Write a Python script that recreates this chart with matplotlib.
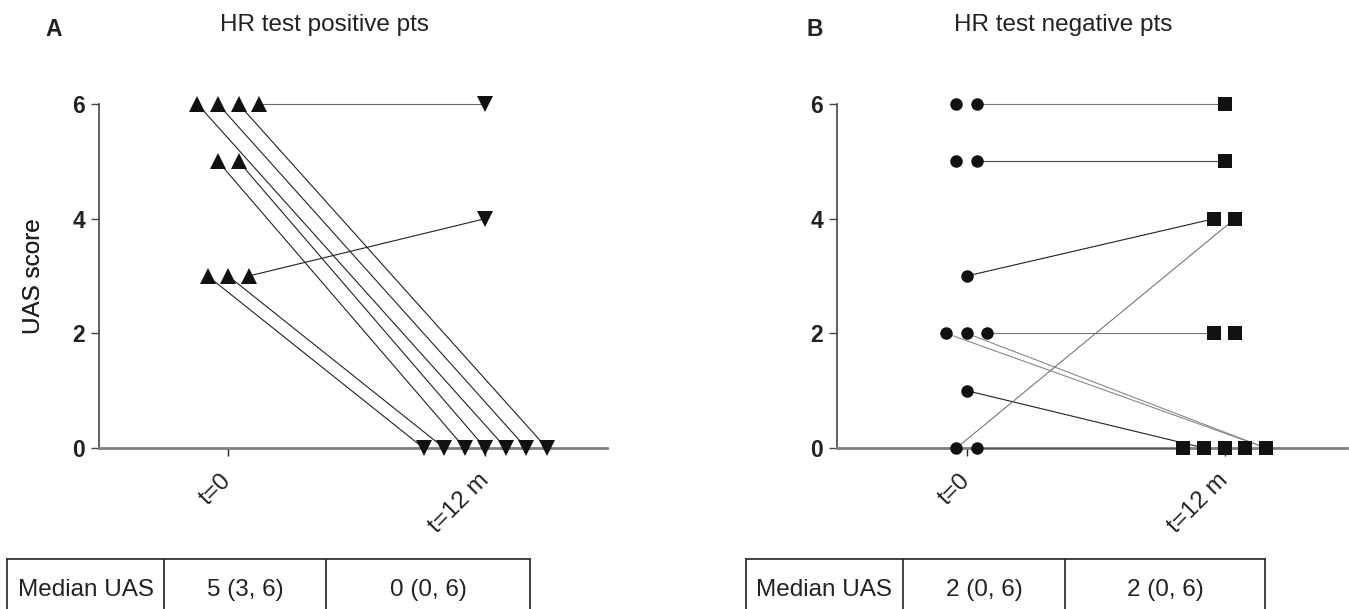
import numpy as np
import matplotlib

matplotlib.use("Agg")
import matplotlib.pyplot as plt
from matplotlib.lines import Line2D

plt.rcParams["font.family"] = ["Liberation Sans", "DejaVu Sans"]

# --- data ---------------------------------------------------------------
cats = ["t=0", "t=12 m"]
yticks = [0, 2, 4, 6]

# panel A: HR test positive (9 patients)
a_t0 = [6, 6, 6, 6, 5, 5, 3, 3, 3]
a_t12 = [0, 0, 0, 0, 0, 0, 0, 6, 4]
# (index into a_t0, index into a_t12)
a_links = [(6, 0), (7, 1), (4, 2), (5, 3), (0, 4), (1, 5), (2, 6), (3, 7), (8, 8)]
a_median = ["Median UAS", "5 (3, 6)", "0 (0, 6)"]

# panel B: HR test negative (11 patients)
b_t0 = [6, 6, 5, 5, 3, 2, 2, 2, 1, 0, 0]
b_t12 = [6, 5, 4, 4, 2, 2, 0, 0, 0, 0, 0]
b_links = [(1, 0), (3, 1), (4, 2), (7, 4), (5, 10), (6, 10), (8, 7), (9, 3), (10, 6)]
b_median = ["Median UAS", "2 (0, 6)", "2 (0, 6)"]

# styles
a_link_colors = ["#222222"] * 7 + ["#666666", "#222222"]
b_link_colors = ["#777777", "#444444", "#222222", "#777777", "#888888",
                 "#888888", "#222222", "#777777", "#555555"]

W, H = 1349, 609
FS = 17.5
JIT = 0.08


def fx(px):
    return px / W


def fy(py):
    return 1 - py / H


def slots(scores):
    # GraphPad-style centred spread of equal values
    counts = {v: scores.count(v) for v in set(scores)}
    seen = {}
    out = []
    for v in scores:
        k = seen.get(v, 0)
        seen[v] = k + 1
        out.append(k - (counts[v] - 1) / 2)
    return np.array(out)


def draw_panel(ax, t0, t12, links, colors, m0, m12, ms0, ms12):
    x0 = 0 + JIT * slots(t0)
    x12 = 1 + JIT * slots(t12)
    for (i, j), c in zip(links, colors):
        ax.plot([x0[i], x12[j]], [t0[i], t12[j]], color=c, lw=0.8,
                clip_on=False, zorder=2.6)
    ax.plot(x0, t0, ls="none", marker=m0, ms=ms0, color="#111111",
            mew=0, clip_on=False, zorder=3)
    ax.plot(x12, t12, ls="none", marker=m12, ms=ms12, color="#111111",
            mew=0, clip_on=False, zorder=3)

    ax.set_xlim(-0.503, 1.474)
    ax.set_ylim(0, 6)
    ax.set_yticks(yticks)
    ax.set_yticklabels([str(v) for v in yticks], fontsize=16.5,
                       fontweight="bold", color="#222222")
    ax.set_xticks([0, 1])
    ax.set_xticklabels(cats, fontsize=FS, rotation=45, ha="right",
                       va="center", rotation_mode="anchor", color="#222222")
    ax.tick_params(axis="y", length=5.8, width=1.0, color="#444444", pad=4.3)
    ax.tick_params(axis="x", length=5.8, width=1.0, color="#222222", pad=15)
    for s in ("top", "right"):
        ax.spines[s].set_visible(False)
    ax.spines["left"].set_bounds(0, 6)
    ax.spines["left"].set_color("#444444")
    ax.spines["left"].set_linewidth(1.2)
    ax.spines["bottom"].set_color("#808080")
    ax.spines["bottom"].set_linewidth(2.0)
    ax.set_ylabel("UAS score", fontsize=FS, color="#222222")
    ax.patch.set_alpha(0)


def draw_table(fig, edges, cells, top=559, text_y=590):
    kw = dict(transform=fig.transFigure, color="#333333", lw=1.3)
    fig.add_artist(Line2D([fx(edges[0]), fx(edges[-1])], [fy(top), fy(top)], **kw))
    for e in edges:
        fig.add_artist(Line2D([fx(e), fx(e)], [fy(top), fy(H + 2)], **kw))
    for k, txt in enumerate(cells):
        cx = (edges[k] + edges[k + 1]) / 2
        fig.text(fx(cx), fy(text_y), txt, ha="center", va="center",
                 fontsize=FS, color="#222222")


fig = plt.figure(figsize=(W / 100, H / 100), dpi=100)

axA = fig.add_axes([fx(99), fy(448), (607 - 99) / W, (448 - 104) / H])
axB = fig.add_axes([fx(837), fy(448), (1347 - 837) / W, (448 - 104) / H])

draw_panel(axA, a_t0, a_t12, a_links, a_link_colors, "^", "v", 11, 11)
draw_panel(axB, b_t0, b_t12, b_links, b_link_colors, "o", "s", 9, 10)

for ax, left in ((axA, 99), (axB, 837)):
    w = 607 - 99 if ax is axA else 1347 - 837
    ax.yaxis.set_label_coords((45 - left) / w, (448 - 276) / (448 - 104))

fig.text(fx(324), fy(25), "HR test positive pts", ha="center", va="center",
         fontsize=FS, color="#222222")
fig.text(fx(1063), fy(25), "HR test negative pts", ha="center", va="center",
         fontsize=FS, color="#222222")
fig.text(fx(54), fy(29), "A", ha="center", va="center", fontsize=16.5,
         fontweight="bold", color="#222222")
fig.text(fx(815), fy(29), "B", ha="center", va="center", fontsize=16.5,
         fontweight="bold", color="#222222")

draw_table(fig, [7, 164, 326, 530], a_median)
draw_table(fig, [746, 903, 1065, 1265], b_median)

fig.savefig("out.png", dpi=100)
plt.close(fig)
